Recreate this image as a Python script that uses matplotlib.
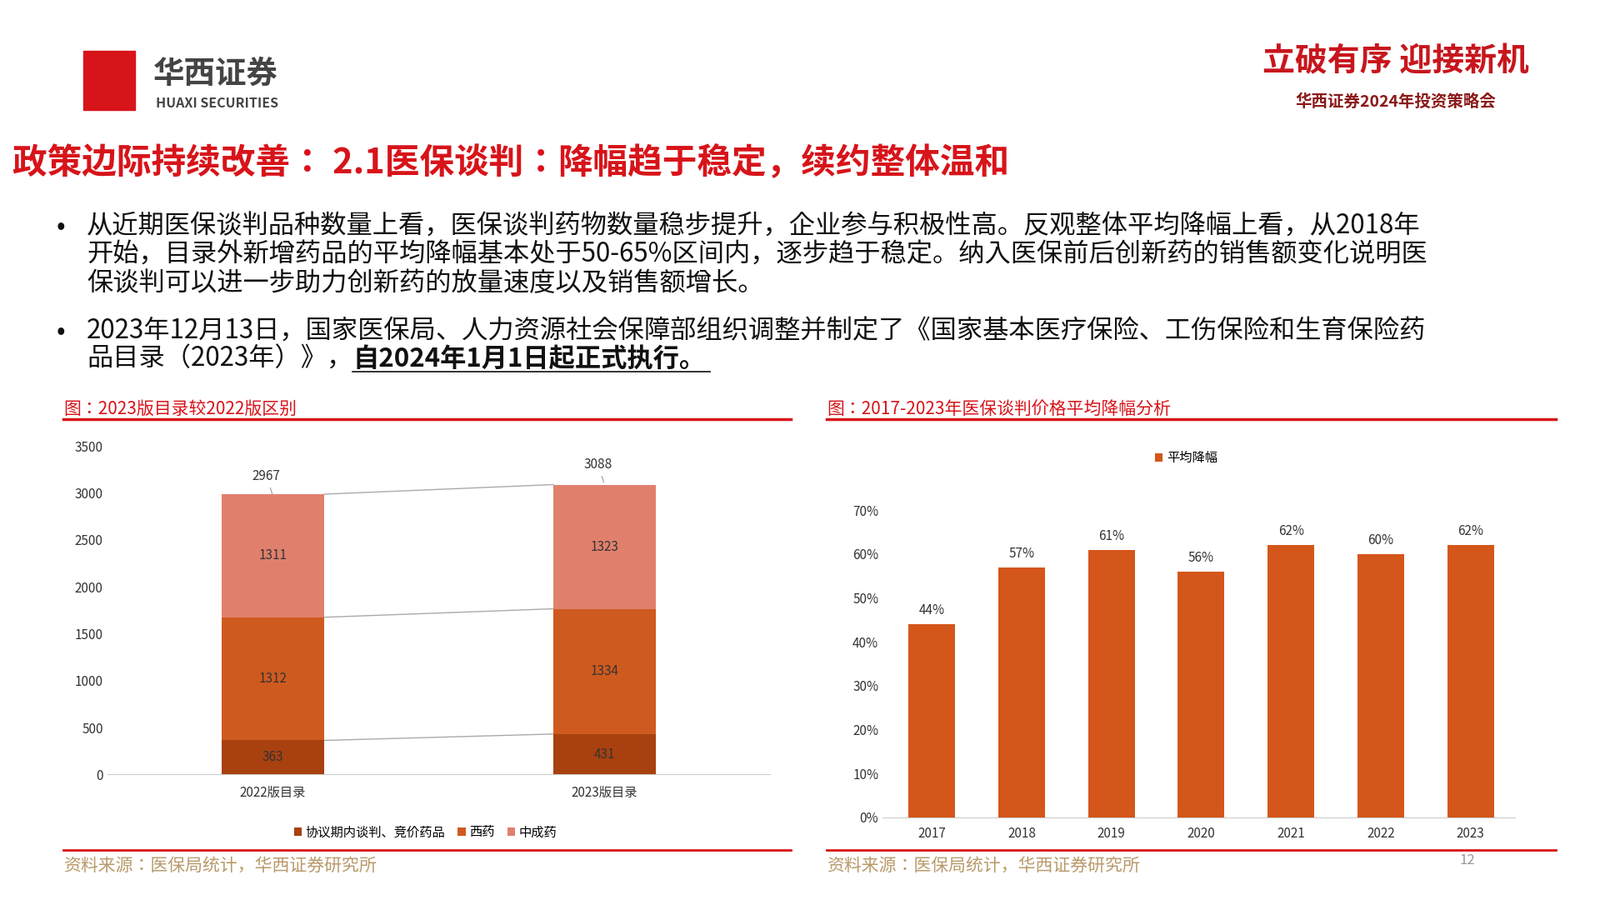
import matplotlib
matplotlib.use("Agg")
import matplotlib.pyplot as plt
import matplotlib.font_manager as fm
import numpy as np

_cjk = [f.name for f in fm.fontManager.ttflist if "CJK" in f.name]
plt.rcParams["font.family"] = "sans-serif"
plt.rcParams["font.sans-serif"] = (["Noto Sans CJK SC"] + sorted(set(_cjk)) + ["DejaVu Sans"])
plt.rcParams["axes.unicode_minus"] = False

# === 数据 ===
catalog = ["2022版目录", "2023版目录"]
negotiated = [363, 431]
western = [1312, 1334]
chinese_med = [1311, 1323]
totals = [2967, 3088]
seg_names = ["协议期内谈判、竞价药品", "西药", "中成药"]

years = ["2017", "2018", "2019", "2020", "2021", "2022", "2023"]
avg_cut = [44, 57, 61, 56, 62, 60, 62]

W, H = 1568, 882
RED = "#D7141A"
C_DARK, C_MID, C_LIGHT = "#A8410F", "#CF5A1F", "#E0806C"
BAR = "#D4561A"


def fx(x):
    return x / W


def fy(y):
    return 1 - y / H


fig = plt.figure(figsize=(19.2, 10.8), dpi=100)

# 页眉
fig.patches.append(plt.Rectangle((fx(82), fy(108)), fx(50), 58 / H, transform=fig.transFigure,
                                 color=RED, zorder=1))
fig.text(fx(150), fy(72), "华西证券", fontsize=27, fontweight="bold", color="#444444", va="center")
fig.text(fx(153), fy(101), "HUAXI SECURITIES", fontsize=11.5, fontweight="bold", color="#444444", va="center")
fig.text(fx(1368), fy(60), "立破有序 迎接新机", fontsize=28, fontweight="bold", color="#C8161D",
         ha="center", va="center", style="italic")
fig.text(fx(1368), fy(100), "华西证券2024年投资策略会", fontsize=14, fontweight="bold", color="#8B1A1A",
         ha="center", va="center")

fig.text(fx(12), fy(160), "政策边际持续改善： 2.1医保谈判：降幅趋于稳定，续约整体温和",
         fontsize=30, fontweight="bold", color=RED, va="center")

body = dict(fontsize=22.5, color="#111111", va="center")
fig.text(fx(55), fy(222), "•", **body)
fig.text(fx(85), fy(222), "从近期医保谈判品种数量上看，医保谈判药物数量稳步提升，企业参与积极性高。反观整体平均降幅上看，从2018年", **body)
fig.text(fx(85), fy(250), "开始，目录外新增药品的平均降幅基本处于50-65%区间内，逐步趋于稳定。纳入医保前后创新药的销售额变化说明医", **body)
fig.text(fx(85), fy(278), "保谈判可以进一步助力创新药的放量速度以及销售额增长。", **body)
fig.text(fx(55), fy(325), "•", **body)
fig.text(fx(85), fy(325), "2023年12月13日，国家医保局、人力资源社会保障部组织调整并制定了《国家基本医疗保险、工伤保险和生育保险药", **body)
t1 = fig.text(fx(85), fy(352), "品目录（2023年）》，", **body)
fig.canvas.draw()
ext = t1.get_window_extent()
x_it = ext.x1 / fig.bbox.width
t2 = fig.text(x_it, fy(352), "自2024年1月1日起正式执行。", fontsize=22.5, color="#111111", va="center",
              fontweight="bold", style="italic")
fig.canvas.draw()
ext2 = t2.get_window_extent()
fig.add_artist(plt.Line2D([x_it, ext2.x1 / fig.bbox.width + 0.003], [fy(364), fy(364)], color="#111111", lw=1.2))

# 小标题与分隔线
for x0, x1, t in [(62, 775, "图：2023版目录较2022版区别"), (810, 1525, "图：2017-2023年医保谈判价格平均降幅分析")]:
    fig.text(fx(x0), fy(401), t, fontsize=15, color=RED, va="center")
    fig.add_artist(plt.Line2D([fx(x0), fx(x1)], [fy(411), fy(411)], color=RED, lw=2.5))
for x0, x1 in [(62, 775), (810, 1525)]:
    fig.add_artist(plt.Line2D([fx(x0), fx(x1)], [fy(833), fy(833)], color=RED, lw=2))
    fig.text(fx(x0), fy(848), "资料来源：医保局统计，华西证券研究所", fontsize=15, color="#B89A6A", va="center")
fig.text(fx(1438), fy(843), "12", fontsize=12, color="#999999", va="center", ha="center")

# 左图：堆叠柱
ax1 = fig.add_axes([fx(105), fy(759), fx(755 - 105), (759 - 437) / H])
x = np.arange(len(catalog))
bw = 0.31
b0 = np.array(negotiated)
b1 = b0 + np.array(western)
b2 = b1 + np.array(chinese_med)
ax1.bar(x, negotiated, bw, color=C_DARK, label=seg_names[0], zorder=3)
ax1.bar(x, western, bw, bottom=b0, color=C_MID, label=seg_names[1], zorder=3)
ax1.bar(x, chinese_med, bw, bottom=b1, color=C_LIGHT, label=seg_names[2], zorder=3)
for top in (b0, b1, b2):
    ax1.plot([x[0] + bw / 2, x[1] - bw / 2], top, color="#AAAAAA", lw=1, zorder=2)
for i in x:
    ax1.text(i, negotiated[i] / 2, str(negotiated[i]), ha="center", va="center", fontsize=11, color="#333333")
    ax1.text(i, b0[i] + western[i] / 2, str(western[i]), ha="center", va="center", fontsize=11, color="#333333")
    ax1.text(i, b1[i] + chinese_med[i] / 2, str(chinese_med[i]), ha="center", va="center", fontsize=11, color="#333333")
    ax1.annotate(str(totals[i]), xy=(i, totals[i]), xytext=(i - 0.02, totals[i] + 170), ha="center",
                 fontsize=11, color="#333333", arrowprops=dict(arrowstyle="-", color="#999999", lw=0.8))
ax1.set_xlim(-0.5, 1.5)
ax1.set_ylim(0, 3500)
ax1.set_yticks(range(0, 3501, 500))
ax1.set_xticks(x)
ax1.set_xticklabels(catalog)
ax1.tick_params(length=0, labelsize=11, colors="#333333")
ax1.tick_params(axis="x", pad=10)
for s in ["top", "right", "left"]:
    ax1.spines[s].set_visible(False)
ax1.spines["bottom"].set_color("#CCCCCC")
ax1.legend(loc="upper center", bbox_to_anchor=(0.48, -0.12), ncol=3, frameon=False, fontsize=11,
           handlelength=0.6, handleheight=0.6, columnspacing=1.0, handletextpad=0.3)

# 右图：平均降幅
ax2 = fig.add_axes([fx(865), fy(801), fx(1485 - 865), (801 - 500) / H])
xr = np.arange(len(years))
ax2.bar(xr, avg_cut, 0.52, color=BAR, label="平均降幅", zorder=3)
for i, v in enumerate(avg_cut):
    ax2.text(i, v + 1.5, f"{v}%", ha="center", va="bottom", fontsize=11, color="#333333")
ax2.set_xlim(-0.55, 6.5)
ax2.set_ylim(0, 70)
ax2.set_yticks(range(0, 71, 10))
ax2.set_yticklabels([f"{t}%" for t in range(0, 71, 10)])
ax2.set_xticks(xr)
ax2.set_xticklabels(years)
ax2.tick_params(length=0, labelsize=11, colors="#333333")
ax2.tick_params(axis="x", pad=8)
for s in ["top", "right", "left"]:
    ax2.spines[s].set_visible(False)
ax2.spines["bottom"].set_color("#CCCCCC")
ax2.legend(loc="center", bbox_to_anchor=(0.48, 1.17), frameon=False, fontsize=11,
           handlelength=0.6, handleheight=0.6, handletextpad=0.3)

fig.savefig("out.png", dpi=100)
